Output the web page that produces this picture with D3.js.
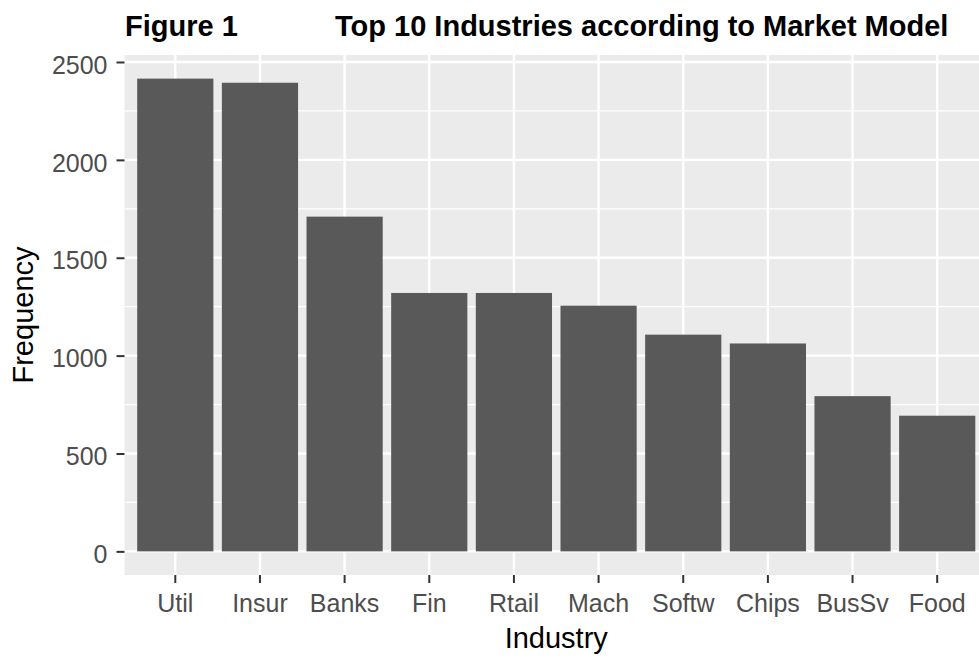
<!DOCTYPE html>
<html>
<head>
<meta charset="utf-8">
<script src="https://cdn.jsdelivr.net/npm/d3@7"></script>
<style>
  html, body { margin: 0; padding: 0; background: #fff; overflow: hidden; }
  svg { display: block; font-family: Arial, 'Liberation Sans', sans-serif; }
</style>
</head>
<body>
<svg></svg>
<script>
(function (d3) {
  'use strict'

  const industries = ['Util', 'Insur', 'Banks', 'Fin', 'Rtail', 'Mach', 'Softw', 'Chips', 'BusSv', 'Food']
  const frequency = [2415, 2394, 1710, 1320, 1320, 1255, 1107, 1062, 793, 693]
  const yTicks = [0, 500, 1000, 1500, 2000, 2500]
  const yMinor = [250, 750, 1250, 1750, 2250]

  const width = 979
  const height = 658
  const panel = { left: 124.5, right: 988, top: 55, bottom: 575 }

  const svg = d3.select('svg').
    attr('width', width).
    attr('height', height)

  const maxVal = d3.max(frequency)
  const y = d3.scaleLinear().
    domain([-0.05 * maxVal, maxVal * 1.05]).
    range([panel.bottom, panel.top])

  const x = d3.scaleBand().
    domain(industries).
    range([panel.left, panel.right]).
    paddingInner(0.1).
    paddingOuter(0.15)

  const cx = d => x(d) + x.bandwidth() / 2

  // panel background
  svg.append('rect').
    attr('x', panel.left).
    attr('y', panel.top).
    attr('width', panel.right - panel.left).
    attr('height', panel.bottom - panel.top).
    attr('fill', '#ebebeb')

  const grid = svg.append('g')
  grid.selectAll('line.minor').data(yMinor).
    enter().append('line').
    attr('x1', panel.left).attr('x2', panel.right).
    attr('y1', d => y(d)).attr('y2', d => y(d)).
    attr('stroke', '#fff').attr('stroke-width', 1.3)
  grid.selectAll('line.major').data(yTicks).
    enter().append('line').
    attr('x1', panel.left).attr('x2', panel.right).
    attr('y1', d => y(d)).attr('y2', d => y(d)).
    attr('stroke', '#fff').attr('stroke-width', 2.4)
  grid.selectAll('line.vmajor').data(industries).
    enter().append('line').
    attr('x1', cx).attr('x2', cx).
    attr('y1', panel.top).attr('y2', panel.bottom).
    attr('stroke', '#fff').attr('stroke-width', 2.4)

  svg.append('g').selectAll('rect').data(industries).
    enter().append('rect').
    attr('x', d => x(d)).
    attr('width', x.bandwidth()).
    attr('y', (d, i) => y(frequency[i])).
    attr('height', (d, i) => y(0) - y(frequency[i])).
    attr('fill', '#595959')

  // y axis
  const yAxis = svg.append('g').
    attr('transform', `translate(${panel.left},0)`).
    call(d3.axisLeft(y).tickValues(yTicks).tickSize(8).tickPadding(9).tickFormat(d3.format('d')))
  yAxis.select('.domain').remove()
  yAxis.selectAll('line').attr('stroke', '#333').attr('stroke-width', 2)
  yAxis.selectAll('text').
    attr('fill', '#4d4d4d').
    attr('font-size', 25).
    attr('dy', '0.45em')

  // x axis
  const xAxis = svg.append('g').
    attr('transform', `translate(0,${panel.bottom})`).
    call(d3.axisBottom(x).tickSize(8).tickPadding(4))
  xAxis.select('.domain').remove()
  xAxis.selectAll('line').attr('stroke', '#333').attr('stroke-width', 2)
  xAxis.selectAll('text').
    attr('fill', '#4d4d4d').
    attr('font-size', 25).
    attr('dy', '1.0em')

  svg.append('text').
    attr('x', (panel.left + panel.right) / 2).
    attr('y', 648).
    attr('text-anchor', 'middle').
    attr('font-size', 29).
    attr('fill', '#000').
    text('Industry')

  svg.append('text').
    attr('transform', `translate(33,${(panel.top + panel.bottom) / 2}) rotate(-90)`).
    attr('text-anchor', 'middle').
    attr('font-size', 29).
    attr('fill', '#000').
    text('Frequency')

  const title = svg.append('text').
    attr('y', 36).
    attr('font-size', 29).
    attr('font-weight', 'bold').
    attr('fill', '#000')
  title.append('tspan').attr('x', 125).text('Figure 1')
  title.append('tspan').attr('x', 335).text('Top 10 Industries according to Market Model')
}(d3))
</script>
</body>
</html>
